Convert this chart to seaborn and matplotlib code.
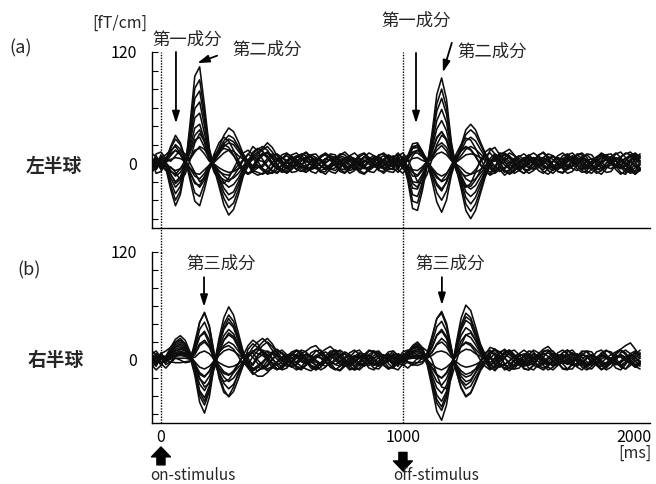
import numpy as np
import pandas as pd
import matplotlib
matplotlib.use("Agg")
import matplotlib.pyplot as plt
from matplotlib.transforms import ScaledTranslation
import seaborn as sns

# ---------------- data (fT/cm) ----------------
t_ms = np.arange(-40, 2000, 20)          # sample times, ms
stim_ms = [0, 1000]                       # on / off stimulus
y_ticks = [-60, -40, -20, 0, 20, 40, 60, 80, 100, 120]
y_labels = ["", "", "", "0", "", "", "", "", "", "120"]
x_ticks = [0, 1000, 2000]
x_labels = ["0", "1000", "2000"]

# Left hemisphere channels; segments -40..400, 420..940, 960..1400, 1420..1980 ms
left_on = [
    [3, -4, 2, -5, -28, -46, -34, -6, 42, 94, 104, 62, 16, -6, -25, -45, -56, -50, -34, -14, -3, 6, 10],
    [-2, 5, -3, -4, -24, -40, -30, -5, 36, 81, 90, 54, 14, -5, -22, -38, -48, -43, -29, -12, -2, 8, 12],
    [6, 1, -5, -3, -20, -33, -25, -4, 31, 70, 78, 47, 12, -4, -18, -32, -40, -36, -24, -10, -2, 10, 15],
    [-6, 2, 7, -3, -16, -26, -20, -3, 26, 59, 66, 40, 10, -3, -15, -27, -34, -31, -20, -8, 0, 4, 8],
    [4, -7, 1, -2, -12, -20, -15, -2, 22, 49, 54, 32, 8, -3, -12, -21, -26, -23, -16, -6, 2, -3, 5],
    [-3, 8, -2, 1, -8, -14, -10, -1, 17, 38, 42, 25, 6, -2, -8, -14, -18, -16, -11, -4, 3, -5, -2],
    [7, -4, 4, 0, -5, -8, -6, -1, 11, 25, 28, 17, 4, -1, -5, -8, -10, -9, -6, -3, 4, 7, 3],
    [-5, 3, -6, 1, 4, 6, 5, 2, 6, 14, 16, 10, 2, 1, 6, 11, 14, 13, 8, 4, -3, -6, -4],
    [2, -6, 5, 1, 8, 14, 10, 3, -5, -11, -12, -7, -2, 2, 10, 18, 22, 20, 13, 6, 1, -8, -10],
    [-8, 4, -1, 2, 12, 20, 15, 4, -10, -22, -24, -14, -4, 3, 14, 24, 30, 27, 18, 8, 2, 12, 16],
    [5, -2, 8, 3, 16, 26, 20, 5, -14, -32, -36, -22, -5, 4, 17, 30, 38, 34, 23, 10, 2, -4, 6],
    [0, 6, -4, 3, 18, 30, 22, 5, -18, -41, -46, -28, -7, 3, 12, 21, 26, 23, 16, 7, -2, -10, -13],
    [8, -6, 9, -4, -9, -12, -6, 3, 4, 12, 18, 15, 6, -3, -9, -12, -13, -8, -2, 4, 10, 6, -3],
    [-9, 4, -7, 6, 10, 14, 9, 1, -6, -14, -17, -11, -2, 6, 12, 16, 14, 8, 1, -6, -11, -8, 2],
    [11, 7, -2, -8, -4, -10, -18, -12, 3, 22, 32, 24, 6, -10, -18, -22, -16, -6, 4, 11, 14, 9, 2],
    [-7, 10, 12, 5, 2, 8, 14, 10, 0, -10, -20, -16, -4, 8, 15, 20, 17, 9, -2, -9, -12, -6, 4],
    [4, -11, -9, -1, -12, -22, -17, -4, 14, 30, 36, 22, 4, -8, -14, -18, -20, -14, -6, 3, 9, 18, 13],
    [-11, -3, 6, 9, 14, 18, 11, -2, -10, -20, -26, -18, -5, 10, 22, 28, 24, 14, 3, -7, -12, -9, -5],
]
left_mid = [
    [14, 18, 12, 4, -2, -6, -4, 1, 5, 3, -2, -6, -5, 0, 4, 7, 3, -2, -5, -3, 2, 6, 5, 0, -4, -6, -2],
    [16, 22, 17, 8, 0, -4, 2, 6, 8, 4, -1, -3, 1, 5, 3, -2, -6, -7, -3, 2, 5, 3, -1, -4, -2, 3, 6],
    [18, 14, 6, -3, -8, -5, 0, 3, -2, -6, -4, 2, 7, 9, 5, 0, -4, -2, 3, 5, 1, -5, -7, -3, 2, 4, 1],
    [10, 6, -2, -6, -9, -5, 2, 7, 9, 12, 7, 1, -3, -5, -2, 3, 6, 4, -1, -6, -8, -4, 1, 5, 7, 3, -2],
    [9, 12, 8, 3, 5, 8, 4, -2, -5, -3, 1, 4, 2, -3, -7, -5, 0, 4, 7, 5, 0, -3, 2, 6, 4, -1, -5],
    [-6, -9, -11, -7, -2, 3, 6, 4, -1, -4, -7, -5, 0, 5, 8, 6, 1, -3, -6, -2, 3, 7, 4, -2, -5, -3, 2],
    [2, -4, -8, -10, -6, 0, 5, 8, 5, 1, 3, 6, 3, -2, -4, 0, 4, 2, -3, -7, -4, 1, 5, 8, 6, 1, -3],
    [-4, 2, 7, 10, 6, 1, -3, -6, -2, 4, 7, 3, -3, -7, -5, -1, 2, 5, 8, 4, -1, -5, -8, -4, 0, 4, 7],
    [-12, -9, -4, 2, 6, 3, -2, -7, -9, -5, 1, 5, 4, 1, 4, 6, 2, -4, -8, -6, -1, 3, 1, -3, -6, -2, 3],
    [13, 6, -1, -5, -3, 2, 5, 2, -3, -7, -5, 0, 6, 10, 7, 2, -2, 0, 5, 3, -3, -6, -4, 1, 5, 8, 4],
    [8, 11, 5, -2, -7, -10, -6, -1, 3, 6, 3, -3, -8, -6, -1, 4, 8, 6, 2, -2, -6, -3, 3, 5, 2, -4, -7],
    [-11, -6, 1, 5, 2, -3, -6, -3, 2, 7, 9, 6, 2, -2, -6, -8, -4, 1, 4, 1, -2, 2, 6, 3, -2, -6, -4],
    [-8, -11, -5, 3, 9, 11, 6, -2, -8, -10, -5, 2, 8, 11, 7, -1, -7, -10, -6, 1, 7, 10, 5, -2, -8, -9, -3],
    [9, 12, 7, -1, -8, -11, -7, 1, 8, 11, 6, -2, -9, -12, -6, 2, 9, 12, 7, -1, -8, -11, -6, 3, 9, 10, 4],
    [-6, -12, -10, -3, 5, 10, 8, 2, -5, -9, -7, 0, 7, 10, 5, -3, -9, -11, -5, 3, 9, 11, 6, -1, -7, -11, -6],
    [11, 8, 1, -6, -10, -8, -2, 6, 10, 8, 2, -5, -10, -9, -3, 5, 10, 9, 3, -4, -10, -12, -7, 1, 8, 11, 7],
    [4, -3, -9, -11, -6, 2, 9, 11, 6, -2, -9, -11, -5, 3, 10, 9, 2, -6, -11, -8, 0, 7, 11, 8, 1, -6, -9],
    [-2, 5, 10, 9, 3, -4, -10, -9, -3, 4, 9, 10, 4, -3, -9, -11, -6, 2, 8, 11, 6, -2, -9, -10, -4, 4, 9],
]
left_off = [
    [4, -3, 2, -19, -49, -51, -30, -3, 32, 74, 92, 69, 23, -6, -27, -51, -60, -51, -33, -15, -3, 5, -2],
    [-5, 6, -1, -16, -41, -43, -25, -2, 28, 64, 80, 60, 20, -5, -23, -44, -52, -44, -29, -13, -3, 7, 3],
    [1, -7, 5, -13, -34, -36, -21, -2, 25, 56, 70, 53, 18, -4, -20, -37, -44, -37, -24, -11, 0, -5, 6],
    [7, 2, -6, -11, -27, -28, -16, -1, 20, 46, 58, 44, 15, -4, -16, -31, -36, -31, -20, -9, 2, 8, 4],
    [-7, 4, 3, -8, -20, -21, -12, -1, 16, 37, 46, 35, 12, -3, -13, -24, -28, -24, -15, -7, -4, -9, -5],
    [3, -5, 7, -5, -14, -14, -8, 1, 12, 27, 34, 26, 9, -2, -9, -17, -20, -17, -11, -5, 3, 2, 9],
    [-4, 8, -3, -3, -7, -8, -4, 2, 8, 18, 22, 17, 6, -1, -5, -10, -12, -10, -7, -3, 5, 10, 7],
    [6, -2, 4, 2, 5, 6, 3, 1, 4, 10, 12, 9, 3, 1, 5, 9, 10, 9, 6, 3, -6, -8, -3],
    [-2, 3, -5, 4, 11, 11, 7, 1, -5, -11, -14, -11, -4, 2, 8, 15, 18, 15, 10, 5, 0, -11, -7],
    [8, -6, 1, 6, 16, 17, 10, 1, -10, -22, -28, -21, -7, 3, 13, 24, 28, 24, 15, 7, 1, 4, 11],
    [-6, 1, 6, 8, 21, 22, 13, 1, -14, -32, -40, -30, -10, 4, 16, 31, 36, 31, 20, 9, 2, -3, -9],
    [2, 7, -2, 7, 18, 19, 11, 1, -19, -42, -53, -40, -13, 4, 19, 36, 42, 36, 23, 11, 2, 6, 1],
    [5, 10, 6, -4, -10, -13, -6, 2, 6, 14, 19, 13, 3, -5, -11, -14, -12, -7, 1, 8, 11, 5, -4],
    [-5, -10, -4, 7, 12, 14, 8, -1, -8, -16, -19, -12, -2, 7, 13, 17, 14, 7, -2, -9, -12, -6, 3],
    [2, 8, 11, 4, -8, -20, -22, -12, 4, 20, 30, 26, 10, -8, -20, -26, -22, -10, 3, 12, 16, 10, 1],
    [1, -7, -11, -4, 8, 14, 12, 4, -6, -14, -20, -17, -6, 6, 14, 18, 15, 8, -1, -8, -13, -10, -2],
    [-10, -4, 4, -6, -22, -26, -15, -2, 12, 28, 34, 24, 7, -7, -16, -24, -25, -18, -8, 2, 14, 17, 9],
    [6, 11, 3, 8, 16, 20, 12, 0, -12, -24, -30, -20, -5, 10, 20, 27, 25, 16, 5, -5, -10, -4, 6],
]
left_late = [
    [1, -4, -7, -5, 0, 4, 6, 2, -3, -6, -4, 1, 5, 8, 5, 0, -4, -6, -2, 3, 6, 4, -1, -5, -3, 2, 8, 11, 6],
    [6, 2, -3, -6, -3, 2, 5, 7, 3, -2, -5, -7, -3, 2, 6, 9, 5, 1, -3, -5, -1, 4, 7, 3, -2, -6, -9, -5, 0],
    [9, 5, 0, -4, -2, 3, 6, 3, -2, -5, -8, -4, 1, 4, 2, -3, -6, -3, 2, 7, 9, 5, 0, -4, -2, 3, 7, 4, -1],
    [-2, -6, -4, 1, 5, 8, 4, -1, -5, -3, 2, 6, 4, -2, -6, -8, -3, 2, 5, 3, -2, -5, -2, 4, 7, 10, 12, 7, 2],
    [-8, -11, -7, -2, 3, 6, 2, -3, -1, 4, 7, 5, 0, -4, -2, 3, 6, 4, -1, -6, -8, -4, 1, 5, 3, -2, -7, -10, -5],
    [12, 15, 9, 3, -2, -5, -1, 4, 6, 2, -3, -6, -4, 1, 5, 3, -2, -4, 0, 5, 8, 6, 1, -3, -6, -3, 2, 6, 3],
    [4, -1, -5, -8, -4, 0, 3, 7, 5, 1, -4, -2, 3, 6, 2, -3, -7, -5, 0, 3, 1, -4, -6, -2, 3, 5, 1, -4, -8],
    [-6, -2, 3, 5, 2, -4, -7, -5, 1, 5, 8, 4, -1, -5, -3, 2, 7, 9, 4, -1, -5, -3, 2, 6, 4, 0, -5, -12, -7],
    [-13, -9, -3, 2, 6, 4, -1, -4, -7, -3, 2, 0, -5, -3, 2, 6, 3, -2, -6, -4, 1, 5, 3, -2, -5, -1, 4, 9, 5],
    [10, 6, 1, -3, -5, -1, 4, 6, 2, -2, -6, -5, 0, 5, 7, 3, -1, -3, 2, 5, 10, 7, 2, -3, -5, -2, 3, -2, -6],
    [-5, 1, 5, 8, 4, -1, -6, -3, 3, 7, 4, -1, -5, -7, -4, 1, 4, 2, -3, -7, -5, 0, 4, 2, -3, -7, -11, -8, -2],
    [3, 7, 4, -1, -6, -8, -4, 2, 6, 3, -2, -5, -2, 3, 8, 6, 1, -4, -7, -3, 2, 4, 0, -4, 1, 5, 9, 6, 1],
    [-10, -7, 0, 7, 10, 6, -1, -8, -11, -6, 2, 8, 11, 7, 0, -6, -10, -8, -1, 6, 11, 8, 1, -7, -12, -8, 2, 10, 7],
    [10, 8, 1, -7, -11, -7, 1, 8, 12, 7, -2, -9, -11, -6, 2, 9, 11, 6, -2, -9, -12, -6, 3, 10, 12, 6, -3, -11, -8],
    [-7, -12, -9, -2, 5, 9, 4, -3, -9, -12, -7, 1, 8, 10, 5, -2, -8, -11, -7, 0, 6, 9, 5, -3, -10, -12, -4, 5, 10],
    [6, 11, 8, 0, -7, -11, -8, -1, 6, 10, 8, 1, -6, -11, -9, -2, 5, 10, 9, 2, -5, -10, -9, -2, 6, 11, 9, 1, -6],
    [2, -6, -11, -8, 0, 8, 11, 7, -1, -8, -11, -6, 2, 9, 11, 6, -2, -9, -11, -5, 3, 9, 10, 4, -4, -10, -8, 0, 8],
    [11, 7, -1, -8, -11, -6, 2, 9, 11, 5, -3, -9, -10, -4, 4, 10, 9, 2, -6, -11, -8, 0, 7, 11, 6, -2, -9, -12, -6],
]

# Right hemisphere channels
right_on = [
    [3, -5, 2, 2, 5, 8, 10, 8, 4, -17, -47, -59, -41, -6, 24, 47, 59, 50, 30, 9, -4, -10, -6],
    [-4, 6, -2, 2, 7, 12, 14, 11, 5, -14, -40, -50, -35, -5, 20, 40, 50, 43, 25, 8, -2, -12, -8],
    [7, 0, -5, 3, 9, 15, 18, 14, 6, -12, -34, -42, -29, -4, 17, 34, 42, 36, 21, 6, 3, 9, 14],
    [-6, 3, 6, 3, 11, 19, 22, 18, 8, -9, -27, -34, -24, -3, 14, 27, 34, 29, 17, 5, -5, 4, 10],
    [2, -7, 4, 4, 14, 23, 27, 22, 9, -7, -21, -26, -18, -3, 11, 22, 28, 24, 14, 4, 6, 14, 20],
    [-3, 5, -6, 3, 10, 17, 20, 16, 7, -4, -14, -18, -13, -2, 8, 16, 20, 17, 10, 3, -7, -14, -18],
    [6, -2, 3, 2, 6, 10, 12, 10, 4, -2, -8, -10, -7, -1, 5, 10, 12, 10, 6, 2, 8, 3, -4],
    [-7, 4, 1, 1, 4, 7, 8, 6, 3, 3, 8, 10, 7, 1, -3, -6, -8, -7, -4, -1, 2, -6, 5],
    [1, -6, 7, 1, 3, 4, 5, 4, 2, 6, 16, 20, 14, 2, -6, -13, -16, -14, -8, -2, -9, -16, -12],
    [5, 2, -3, 0, 1, 2, 2, 2, 1, 10, 26, 32, 22, 3, -10, -19, -24, -20, -12, -4, 4, 10, 7],
    [-5, 7, 2, 0, -2, -3, -3, -2, -1, 13, 34, 42, 29, 4, -13, -26, -32, -27, -16, -5, -1, -5, 2],
    [0, -4, 5, 1, 3, 5, 6, 5, 2, 16, 42, 53, 37, 5, -16, -33, -41, -35, -21, -6, 5, 8, 0],
    [-8, 7, -5, 4, 9, 14, 16, 12, 2, -8, -16, -19, -12, 0, 9, 14, 16, 12, 4, -5, 12, 18, 14],
    [9, -4, 8, -3, 2, 5, 8, 6, 0, 8, 18, 22, 15, 1, -9, -15, -17, -12, -4, 6, -6, -12, -8],
    [-5, -11, -6, 3, 8, 10, 12, 14, 8, -4, -20, -30, -26, -10, 8, 22, 30, 26, 14, 2, -8, -4, 5],
    [6, 10, 3, -5, -2, 4, 9, 7, 1, 12, 26, 30, 18, -2, -16, -24, -22, -14, -4, 5, 16, 22, 18],
    [-10, -2, 7, 10, 14, 20, 24, 18, 6, -12, -36, -46, -32, -6, 18, 36, 46, 38, 22, 6, -4, -9, -12],
    [11, 5, -4, -9, -3, 2, 0, -3, -2, 20, 42, 52, 38, 8, -20, -36, -40, -30, -14, -2, 4, 10, 12],
]
right_mid = [
    [-2, 4, 8, 5, -1, -5, -8, -4, 2, 6, 4, -2, -6, -3, 3, 7, 5, 0, -4, -6, -2, 3, 6, 2, -3, -5, -1],
    [-4, 3, 9, 12, 7, 1, -4, -7, -10, -6, 0, 4, 2, -3, -5, -1, 4, 7, 3, -2, -6, -4, 1, 5, 8, 4, 0],
    [20, 24, 18, 9, 2, -3, -1, 4, 7, 10, 14, 16, 10, 3, -2, -5, -2, 3, 5, 1, -4, -7, -3, 2, 6, 4, -1],
    [16, 20, 15, 7, 1, -4, -7, -5, 0, 5, 3, -2, -5, -1, 4, 6, 2, -3, -6, -2, 3, 7, 4, -1, -4, -2, 3],
    [24, 19, 11, 4, -1, 2, 6, 4, -1, -5, -3, 2, 6, 9, 5, 0, -5, -7, -3, 2, 5, 3, -2, -6, -4, 1, 5],
    [-18, -14, -8, -2, 3, 6, 2, -3, -7, -10, -12, -8, -3, 1, 4, 2, -3, -5, -1, 4, 8, 5, 0, -4, -7, -3, 2],
    [-8, -12, -9, -3, 2, 5, 8, 5, 1, -3, -1, 3, 6, 4, -1, -5, -7, -3, 2, 5, 2, -3, -6, -2, 3, 6, 2],
    [9, 6, 1, -4, -7, -3, 2, 6, 4, -1, -6, -8, -4, 1, 5, 8, 4, -1, -4, -1, 4, 2, -3, -6, -3, 2, 6],
    [-9, -5, 1, 5, 8, 4, -2, -7, -9, -5, 1, 5, 8, 12, 15, 10, 4, -1, -5, -2, 3, 5, 1, -4, -6, -2, 3],
    [5, 1, -3, -6, -2, 4, 7, 3, -2, -4, 0, 5, 3, -2, -6, -10, -12, -7, -1, 3, 6, 2, -3, -5, -1, 4, 7],
    [6, 10, 7, 1, -4, -7, -3, 2, 5, 3, -2, -6, -4, 1, 6, 4, -1, -4, -7, -3, 2, 6, 4, -1, -5, -3, 2],
    [-6, -10, -7, -2, 3, 1, -4, -2, 3, 7, 5, 0, -4, -7, -4, 1, 5, 9, 6, 1, -3, -6, -3, 2, 5, 3, -2],
    [8, 2, -5, -10, -8, -1, 6, 10, 7, 0, -7, -11, -8, -1, 6, 11, 9, 2, -6, -11, -9, -2, 6, 10, 7, -1, -8],
    [-10, -7, 0, 8, 11, 6, -2, -9, -11, -5, 3, 10, 11, 5, -3, -10, -11, -5, 3, 9, 11, 5, -3, -9, -10, -4, 4],
    [11, 9, 2, -6, -11, -9, -2, 6, 11, 9, 2, -6, -11, -8, 0, 8, 11, 7, -1, -8, -11, -6, 2, 9, 10, 4, -4],
    [9, -1, -8, -11, -6, 2, 9, 11, 6, -2, -9, -10, -4, 4, 10, 10, 3, -5, -11, -9, -2, 6, 11, 9, 2, -6, -10],
    [-8, -1, 7, 11, 8, 1, -7, -11, -8, 0, 8, 11, 7, -1, -8, -11, -7, 1, 8, 11, 6, -2, -9, -11, -5, 3, 9],
    [10, 4, -4, -10, -10, -3, 5, 11, 9, 2, -6, -11, -8, 0, 8, 11, 6, -2, -9, -11, -5, 3, 10, 10, 3, -5, -10],
]
right_off = [
    [2, -4, 2, 4, 7, 8, 6, -5, -30, -57, -67, -50, -17, 18, 46, 61, 55, 37, 18, 6, -3, 2, -5],
    [-5, 3, 2, 6, 10, 12, 8, -3, -25, -48, -56, -42, -14, 16, 39, 52, 47, 31, 16, 5, 4, -6, 3],
    [6, -1, 3, 8, 13, 15, 10, -2, -21, -39, -46, -35, -12, 13, 33, 44, 40, 26, 13, 4, -6, -2, 7],
    [-2, 7, 4, 9, 15, 18, 13, 0, -17, -31, -37, -28, -9, 11, 27, 36, 32, 22, 11, 4, 8, 12, 5],
    [4, -6, 3, 7, 12, 14, 10, 0, -13, -24, -28, -21, -7, 8, 21, 28, 25, 17, 8, 3, -4, -9, -4],
    [-6, 2, 2, 5, 8, 10, 7, 0, -9, -17, -20, -15, -5, 6, 15, 20, 18, 12, 6, 2, 10, 6, -2],
    [7, 4, -3, 3, 5, 6, 4, 0, -5, -9, -11, -8, -3, 4, 9, 12, 11, 7, 4, 1, -8, 3, 9],
    [-3, -7, 5, 2, 3, 4, 3, 2, 5, 9, 10, 8, 3, -2, -6, -8, -7, -5, -2, -1, 5, -4, -8],
    [1, 6, -4, 1, 2, 2, 1, 2, 9, 17, 20, 15, 5, -5, -12, -16, -14, -10, -5, -2, 1, 8, 2],
    [3, -3, -6, -2, -3, -3, -2, 3, 14, 27, 32, 24, 8, -7, -18, -24, -22, -14, -7, -2, -7, -12, -6],
    [-4, 5, 1, -3, -5, -6, -4, 3, 19, 37, 43, 32, 11, -10, -24, -32, -29, -19, -10, -3, 3, -2, 4],
    [5, 0, -2, 3, 4, 5, 4, 6, 24, 46, 54, 41, 14, -12, -31, -41, -37, -25, -12, -4, 6, 11, 8],
    [-9, -3, 5, 10, 14, 16, 11, 1, -8, -16, -20, -14, -3, 8, 15, 19, 16, 9, 0, -7, -11, -6, 3],
    [10, 4, -5, -9, -4, 2, 5, 4, 8, 18, 24, 19, 7, -6, -15, -19, -17, -10, -1, 8, 11, 5, -4],
    [-9, -11, -4, 4, 9, 12, 14, 10, 0, -16, -30, -32, -20, -2, 16, 28, 30, 22, 10, -2, -10, -8, 0],
    [-6, 2, 9, 11, 6, 1, 4, 6, 14, 28, 34, 26, 10, -8, -22, -28, -24, -14, -3, 6, 14, 12, 4],
    [10, 5, -2, 8, 16, 20, 14, -1, -24, -44, -52, -38, -12, 14, 36, 48, 44, 30, 14, 3, -8, -11, -6],
    [-8, 0, 6, -2, -6, -3, 2, 8, 26, 46, 52, 38, 12, -12, -30, -40, -36, -24, -10, 0, 8, 12, 9],
]
right_late = [
    [-9, -12, -7, -1, 4, 7, 3, -2, -5, -2, 3, 6, 4, -1, -5, -7, -3, 2, 5, 2, -3, -6, -2, 3, 6, 3, -2, -5, -1],
    [8, 11, 6, 0, -4, -2, 3, 7, 12, 15, 9, 3, -2, -5, -2, 3, 6, 3, -2, -5, -7, -3, 2, 5, 3, -1, -4, -2, 2],
    [12, 7, 2, -3, -6, -3, 2, 5, 8, 4, -1, -5, -3, 1, 5, 7, 3, -2, -6, -4, 1, 4, 2, -3, -6, -2, 4, 8, 4],
    [-5, -1, 4, 7, 4, -1, -6, -8, -4, 1, 5, 3, -2, -4, 0, 4, 7, 4, -1, -5, -3, 2, 6, 9, 12, 16, 19, 12, 4],
    [-6, -9, -5, 0, 4, 2, -3, -6, -2, 3, 7, 5, 0, -3, -6, -4, 1, 5, 3, -2, -5, -8, -4, 1, 5, 3, -2, -6, -3],
    [3, 10, 4, -1, -4, -1, 3, 6, 3, -2, -6, -4, 1, 5, 8, 4, -1, -5, -3, 2, 5, 3, -2, -5, -3, 2, 7, 10, 6],
    [11, 6, 1, -4, -7, -5, 0, 4, 2, -3, -5, -1, 3, 6, 3, -2, -6, -8, -4, 1, 4, 2, -3, -5, -1, 3, 6, 3, -2],
    [-5, -1, 4, 2, -3, -6, -3, 2, 6, 8, 4, -1, -4, -1, 3, 1, -4, -7, -3, 2, 6, 4, -1, -4, -7, -4, 1, 5, 2],
    [3, 7, 4, -1, -5, -3, 2, 5, 2, -3, -7, -5, 0, 4, 7, 4, -1, -4, -1, 3, 7, 5, 0, -5, -3, 2, 6, 3, -3],
    [-9, -5, 0, 4, 7, 4, -1, -6, -9, -6, -1, 3, 6, 3, -2, -6, -3, 2, 5, 2, -3, -6, -2, 3, 5, 1, -4, -8, -5],
    [2, -3, -7, -4, 1, 5, 7, 3, -2, -5, -3, 2, 5, 2, -3, -6, -3, 2, 6, 3, -1, -4, -1, 3, 6, 2, -3, -7, -4],
    [6, 3, -2, -6, -3, 2, 6, 4, -1, -4, -2, 3, 8, 11, 6, 1, -3, -5, -1, 3, 6, 3, -2, -5, -2, 2, 5, 2, -2],
    [9, 11, 6, -2, -9, -11, -6, 2, 9, 11, 6, -2, -9, -10, -4, 4, 10, 9, 2, -6, -11, -7, 1, 8, 11, 6, -2, -8, -5],
    [-11, -8, -1, 7, 11, 7, -1, -8, -11, -7, 1, 8, 11, 7, -1, -8, -11, -6, 2, 9, 11, 6, -2, -9, -11, -5, 3, 9, 7],
    [7, 10, 5, -3, -10, -11, -5, 3, 10, 11, 5, -3, -10, -11, -5, 3, 9, 10, 4, -4, -10, -9, -2, 6, 11, 8, 0, -7, -10],
    [-4, -10, -10, -3, 5, 10, 9, 2, -6, -11, -8, 0, 8, 11, 7, -1, -8, -11, -7, 1, 8, 11, 7, -1, -8, -10, -3, 6, 11],
    [2, 9, 11, 6, -2, -9, -11, -5, 3, 10, 10, 4, -4, -10, -10, -3, 5, 10, 9, 2, -6, -11, -8, 0, 8, 11, 7, -1, -7],
    [3, -5, -10, -9, -2, 6, 11, 8, 0, -8, -11, -6, 2, 9, 11, 5, -3, -9, -10, -4, 4, 10, 9, 2, -6, -10, -6, 2, 8],
]


def build(on, mid, off, late):
    rows = []
    for ch in range(len(on)):
        vals = on[ch] + mid[ch] + off[ch] + late[ch]
        assert len(vals) == len(t_ms), (ch, len(vals))
        for tt, v in zip(t_ms, vals):
            rows.append((ch, tt, v))
    return pd.DataFrame(rows, columns=["ch", "t", "v"])


df_left = build(left_on, left_mid, left_off, left_late)
df_right = build(right_on, right_mid, right_off, right_late)

# ---------------- figure ----------------
sns.set_style("white")
plt.rcParams["font.family"] = ["Noto Sans CJK JP", "DejaVu Sans"]

W, H = 656, 484
fig = plt.figure(figsize=(W / 100, H / 100), dpi=100)


def box(l, t, r, b):
    return [l / W, 1 - b / H, (r - l) / W, (b - t) / H]


ax_a = fig.add_axes(box(152, 52, 650, 228))
ax_b = fig.add_axes(box(152, 252, 650, 423))

for ax, df in ((ax_a, df_left), (ax_b, df_right)):
    sns.lineplot(data=df, x="t", y="v", units="ch", estimator=None,
                 color="#0d0d0d", linewidth=1.15, ax=ax, legend=False,
                 sort=False)
    ax.set_xlim(-37, 2021)
    ax.set_ylim(-70, 120)
    ax.set_xlabel("")
    ax.set_ylabel("")
    ax.patch.set_alpha(0)
    for s in ("top", "right"):
        ax.spines[s].set_visible(False)
    for s in ("left", "bottom"):
        ax.spines[s].set_color("black")
        ax.spines[s].set_linewidth(1.0)
    ax.set_yticks(y_ticks)
    ax.set_yticklabels(y_labels)
    ax.tick_params(axis="y", direction="in", length=4, width=0.8,
                   pad=11, labelsize=11.5, colors="black", left=True)
    ax.tick_params(axis="x", length=0)

ax_a.set_xticks([])
ax_b.set_xticks(x_ticks)
ax_b.set_xticklabels(x_labels)
ax_b.tick_params(axis="x", pad=4, labelsize=11.5, colors="black")
last = ax_b.get_xticklabels()[-1]
last.set_transform(last.get_transform()
                   + ScaledTranslation(-11 / 100, 0, fig.dpi_scale_trans))

# stimulus dotted lines, running through both panels
for s in stim_ms:
    ax_a.axvline(s, ymin=-0.14, ymax=1.0, clip_on=False, color="black",
                 linestyle=(0, (1, 1)), linewidth=1.0, zorder=0)
    ax_b.axvline(s, ymin=0.0, ymax=1.0, color="black",
                 linestyle=(0, (1, 1)), linewidth=1.0, zorder=0)

arrow_thin = dict(arrowstyle="-|>,head_length=0.7,head_width=0.22",
                  color="black", lw=1.3, shrinkA=0, shrinkB=0)
cjk_size = 12.5

# panel (a) annotations
ax_a.annotate("", xy=(62, 43), xytext=(62, 120), arrowprops=arrow_thin)
ax_a.text(107, 133, "第一成分", ha="center", va="center", fontsize=cjk_size)
ax_a.annotate("", xy=(150, 108), xytext=(232, 116), arrowprops=arrow_thin)
ax_a.text(438, 122, "第二成分", ha="center", va="center", fontsize=cjk_size)

ax_a.annotate("", xy=(1054, 43), xytext=(1054, 119), arrowprops=arrow_thin)
ax_a.text(1054, 154, "第一成分", ha="center", va="center", fontsize=cjk_size)
ax_a.annotate("", xy=(1165, 98), xytext=(1202, 130), arrowprops=arrow_thin)
ax_a.text(1368, 120, "第二成分", ha="center", va="center", fontsize=cjk_size)

# panel (b) annotations
ax_b.annotate("", xy=(178, 59), xytext=(178, 92), arrowprops=arrow_thin)
ax_b.text(248, 107, "第三成分", ha="center", va="center", fontsize=cjk_size)
ax_b.annotate("", xy=(1161, 61), xytext=(1161, 92), arrowprops=arrow_thin)
ax_b.text(1194, 107, "第三成分", ha="center", va="center", fontsize=cjk_size)

# stimulus block arrows and labels under the time axis
trans = ax_b.get_xaxis_transform()
block = dict(arrowstyle="simple,head_length=0.55,head_width=1.05,tail_width=0.45",
             fc="black", ec="black", mutation_scale=13, shrinkA=0, shrinkB=0)
ax_b.annotate("", xy=(stim_ms[0], -0.140), xytext=(stim_ms[0], -0.245),
              xycoords=trans, textcoords=trans, arrowprops=block)
ax_b.annotate("", xy=(stim_ms[1], -0.280), xytext=(stim_ms[1], -0.172),
              xycoords=trans, textcoords=trans, arrowprops=block)
ax_b.text(-46, -0.305, "on-stimulus", transform=trans, ha="left",
          va="center", fontsize=11)
ax_b.text(958, -0.305, "off-stimulus", transform=trans, ha="left",
          va="center", fontsize=11)
ax_b.text(1960, -0.175, "[ms]", transform=trans, ha="center",
          va="center", fontsize=11.5)

# left side labels
def ftext(x, y, s, **kw):
    fig.text(x / W, 1 - y / H, s, ha="center", va="center", **kw)

ftext(120, 23, "[fT/cm]", fontsize=11.5)
ftext(21, 48, "(a)", fontsize=13)
ftext(29, 270, "(b)", fontsize=13)
ftext(54, 166, "左半球", fontsize=13.5, fontweight="bold")
ftext(56, 361, "右半球", fontsize=13.5, fontweight="bold")

fig.savefig("out.png", dpi=100, facecolor="white")
